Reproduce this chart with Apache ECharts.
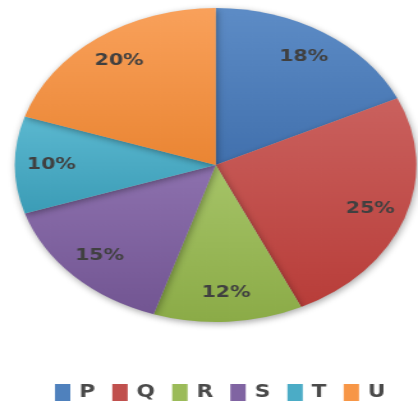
<!DOCTYPE html>
<html>
<head>
<meta charset="utf-8">
<script src="https://cdn.jsdelivr.net/npm/echarts@6/dist/echarts.min.js"></script>
<style>
  html, body { margin: 0; padding: 0; background: #fff; overflow: hidden; }
  /* the reference is stretched sideways, so draw narrow and scale it out */
  #main { width: 327px; height: 401px; transform: scaleX(1.2783); transform-origin: 0 0; }
</style>
</head>
<body>
<div id="main"></div>
<script>
var categories = ["P", "Q", "R", "S", "T", "U"];
var values = [18, 25, 12, 15, 10, 20];
var colors = ["#4F81BD", "#C0504D", "#9BBB59", "#8064A2", "#4BACC6", "#F79646"];
var lightColors = ["#5D8CC6", "#CA615E", "#A6C468", "#8D71AE", "#5BB8D0", "#F9A15B"];
var darkColors = ["#4170AD", "#B83D39", "#8BAB47", "#725592", "#3B9CB6", "#EA8533"];

var chart = echarts.init(document.getElementById("main"));

var pieData = categories.map(function (name, i) {
  return {
    name: name,
    value: values[i],
    itemStyle: {
      color: {
        type: "linear", x: 0, y: 0, x2: 0, y2: 1,
        colorStops: [
          { offset: 0, color: lightColors[i] },
          { offset: 1, color: darkColors[i] },
        ],
      },
    },
  };
});

// labels sit at ~0.8R, so a transparent ring carries them
var labelData = categories.map(function (name, i) {
  return { name: name, value: values[i] };
});

chart.setOption({
  animation: false,
  color: colors,
  legend: {
    data: categories.map(function (name, i) {
      return { name: name, icon: "rect", itemStyle: { color: colors[i], borderWidth: 0, shadowBlur: 0 } };
    }),
    left: 38,
    top: 379,
    width: 285,
    itemWidth: 12,
    itemHeight: 17,
    itemGap: 13.4,
    textStyle: {
      fontFamily: "DejaVu Sans",
      fontWeight: "bold",
      fontSize: 17,
      color: "#4a4a4a",
      padding: [0, 0, 0, 2],
    },
  },
  series: [
    {
      type: "pie",
      center: [168.75, 165],
      radius: 157,
      startAngle: 90,
      clockwise: true,
      label: { show: false },
      labelLine: { show: false },
      emphasis: { disabled: true },
      itemStyle: {
        shadowBlur: 6,
        shadowColor: "rgba(0,0,0,0.35)",
        shadowOffsetX: 1,
        shadowOffsetY: 2,
      },
      data: pieData,
    },
    {
      type: "pie",
      center: [168.75, 165],
      radius: [94, 157],
      startAngle: 90,
      clockwise: true,
      silent: true,
      legendHoverLink: false,
      emphasis: { disabled: true },
      itemStyle: { color: "rgba(0,0,0,0)" },
      label: {
        show: true,
        position: "inside",
        rotate: 0,
        formatter: "{c}%",
        fontFamily: "DejaVu Sans",
        fontWeight: "bold",
        fontStyle: "normal",
        fontSize: 16,
        color: "#404040",
      },
      labelLine: { show: false },
      data: labelData,
    },
  ],
});
</script>
</body>
</html>
